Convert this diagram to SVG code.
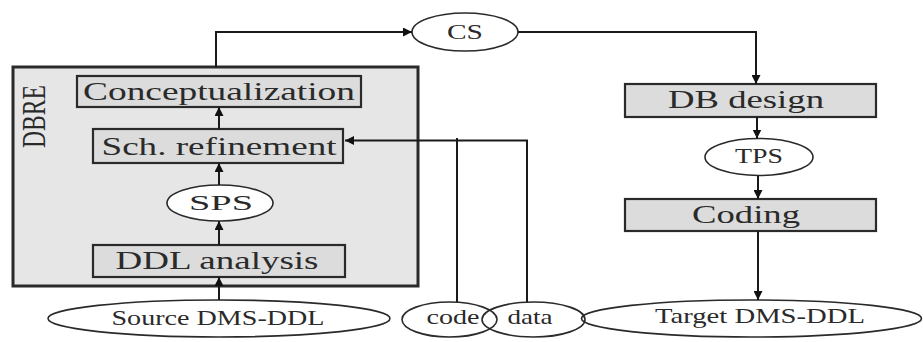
<svg xmlns="http://www.w3.org/2000/svg" width="923" height="342" viewBox="0 0 923 342">
<defs>
<marker id="ah" viewBox="0 0 10 10" refX="10" refY="5" markerWidth="9" markerHeight="9" markerUnits="userSpaceOnUse" orient="auto">
<path d="M0,0 L10,5 L0,10 z" fill="#111"/>
</marker>
<style>
.box{fill:#dcdcdc;stroke:#2a2a2a;stroke-width:2.2}
.ell{fill:#fff;stroke:#2a2a2a;stroke-width:1.6}
.lbl{font-family:'Liberation Serif','DejaVu Serif',serif;fill:#2a2a2a;text-anchor:middle}
.big{font-size:26px}
.sm{font-size:22px}
.con{fill:none;stroke:#1a1a1a;stroke-width:2}
.arr{marker-end:url(#ah)}
</style>
</defs>
<rect width="923" height="342" fill="#fff"/>

<g id="DBRE">
<rect x="13" y="67" width="405" height="219" fill="#e6e6e6" stroke="#2a2a2a" stroke-width="3"/>
<text class="lbl" font-family="Liberation Serif, DejaVu Serif, serif" transform="translate(45,116.5) scale(1.37,1) rotate(-90)" font-size="25" textLength="63" lengthAdjust="spacingAndGlyphs">DBRE</text>
</g>

<g id="conceptualization">
<rect class="box" x="77" y="76" width="284" height="31"/>
<text class="lbl big" font-family="Liberation Serif, DejaVu Serif, serif" x="219" y="100" textLength="272" lengthAdjust="spacingAndGlyphs">Conceptualization</text>
</g>
<g id="sch-refinement">
<rect class="box" x="93" y="129" width="250" height="34"/>
<text class="lbl big" font-family="Liberation Serif, DejaVu Serif, serif" x="219" y="155" textLength="235" lengthAdjust="spacingAndGlyphs">Sch. refinement</text>
</g>
<g id="SPS">
<ellipse class="ell" cx="220" cy="203" rx="53" ry="18"/>
<text class="lbl sm" font-family="Liberation Serif, DejaVu Serif, serif" x="221" y="210" textLength="64" lengthAdjust="spacingAndGlyphs">SPS</text>
</g>
<g id="ddl-analysis">
<rect class="box" x="93" y="245" width="252" height="32"/>
<text class="lbl big" font-family="Liberation Serif, DejaVu Serif, serif" x="217" y="269" textLength="203" lengthAdjust="spacingAndGlyphs">DDL analysis</text>
</g>
<g id="source">
<ellipse class="ell" cx="219" cy="318.5" rx="171" ry="18.5"/>
<text class="lbl sm" font-family="Liberation Serif, DejaVu Serif, serif" x="218" y="325" textLength="213" lengthAdjust="spacingAndGlyphs">Source DMS-DDL</text>
</g>
<g id="CS">
<ellipse class="ell" cx="465" cy="32" rx="53" ry="19"/>
<text class="lbl sm" font-family="Liberation Serif, DejaVu Serif, serif" x="465" y="39" textLength="36" lengthAdjust="spacingAndGlyphs">CS</text>
</g>
<g id="db-design">
<rect class="box" x="625" y="84" width="251" height="33"/>
<text class="lbl big" font-family="Liberation Serif, DejaVu Serif, serif" x="746" y="108" textLength="156" lengthAdjust="spacingAndGlyphs">DB design</text>
</g>
<g id="TPS">
<ellipse class="ell" cx="759" cy="157" rx="54" ry="18.5"/>
<text class="lbl sm" font-family="Liberation Serif, DejaVu Serif, serif" x="759" y="163" textLength="48" lengthAdjust="spacingAndGlyphs">TPS</text>
</g>
<g id="coding">
<rect class="box" x="625" y="199" width="251" height="32"/>
<text class="lbl big" font-family="Liberation Serif, DejaVu Serif, serif" x="746" y="223" textLength="108" lengthAdjust="spacingAndGlyphs">Coding</text>
</g>
<g id="target">
<ellipse class="ell" cx="751.5" cy="318.5" rx="170" ry="18.5"/>
<text class="lbl sm" font-family="Liberation Serif, DejaVu Serif, serif" x="760" y="323" textLength="210" lengthAdjust="spacingAndGlyphs">Target DMS-DDL</text>
</g>
<g id="code">
<ellipse class="ell" cx="449.5" cy="319.5" rx="47.5" ry="17.5" style="fill:none"/>
<text class="lbl sm" font-family="Liberation Serif, DejaVu Serif, serif" x="453" y="324" textLength="53" lengthAdjust="spacingAndGlyphs">code</text>
</g>
<g id="data">
<ellipse class="ell" cx="533.5" cy="319.5" rx="51.5" ry="17.5" style="fill:none"/>
<text class="lbl sm" font-family="Liberation Serif, DejaVu Serif, serif" x="530" y="324" textLength="45" lengthAdjust="spacingAndGlyphs">data</text>
</g>

<g id="connectors">
<line class="con arr" x1="219" y1="300" x2="219" y2="277"/>
<line class="con arr" x1="219" y1="245" x2="219" y2="221"/>
<line class="con arr" x1="219" y1="185" x2="219" y2="163"/>
<line class="con arr" x1="219" y1="129" x2="219" y2="107"/>
<polyline class="con arr" points="216,67 216,32 412,32"/>
<polyline class="con arr" points="518,32 756,32 756,84"/>
<line class="con arr" x1="757" y1="117" x2="757" y2="138.5"/>
<line class="con arr" x1="758" y1="175.5" x2="758" y2="199"/>
<line class="con arr" x1="758" y1="231" x2="758" y2="300"/>
<polyline class="con arr" points="527,302 527,140.5 345,140.5"/>
<line class="con" x1="457" y1="138" x2="457" y2="302"/>
</g>
</svg>
